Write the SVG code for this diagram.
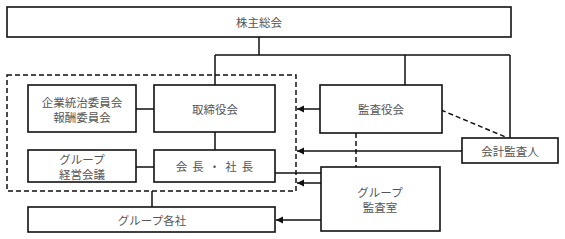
<svg xmlns="http://www.w3.org/2000/svg" width="565" height="239" viewBox="0 0 565 239">
<style>
.box{fill:#fff;stroke:#111;stroke-width:1.6}
.ln{fill:none;stroke:#111;stroke-width:1.5}
.dash{fill:none;stroke:#111;stroke-width:1.5;stroke-dasharray:5,3}
text{font-family:"Noto Sans CJK JP","Noto Sans CJK SC",sans-serif;font-size:11.5px;fill:#555;text-anchor:middle;dominant-baseline:central}
</style>
<defs>
<marker id="ah" markerWidth="8" markerHeight="8" refX="7" refY="4" orient="auto" markerUnits="userSpaceOnUse">
<path d="M0,0.5 L7,4 L0,7.5 Z" fill="#111"/>
</marker>
</defs>
<rect width="565" height="239" fill="#fff"/>
<g id="connectors">
<path class="ln" d="M259,37 V55 M215,55 H510 M215,55 V85 M405,55 V85 M510,55 V138"/>
<path class="ln" d="M136,109 H154 M136,167 H154 M215,132 V150 M152,191 V207 M275,173 H321"/>
<path class="dash" d="M441,110 L508,138"/>
<path class="dash" d="M356,133 V167"/>
<path class="ln" d="M320,109 H297" marker-end="url(#ah)"/>
<path class="ln" d="M462,151 H297" marker-end="url(#ah)"/>
<path class="ln" d="M321,183 H297" marker-end="url(#ah)"/>
<path class="ln" d="M321,220 H276" marker-end="url(#ah)"/>
</g>
<g id="group-box"><rect class="dash" x="7" y="75" width="289" height="116"/></g>
<g id="shareholders"><rect class="box" x="7" y="7" width="504" height="30"/><text x="259" y="22">株主総会</text></g>
<g id="committees"><rect class="box" x="28" y="85" width="108" height="47"/><text x="82" y="102">企業統治委員会</text><text x="82" y="117">報酬委員会</text></g>
<g id="board"><rect class="box" x="154" y="85" width="121" height="47"/><text x="215" y="109">取締役会</text></g>
<g id="mgmt-meeting"><rect class="box" x="28" y="150" width="108" height="32"/><text x="82" y="159">グループ</text><text x="82" y="174">経営会議</text></g>
<g id="president"><rect class="box" x="154" y="150" width="121" height="32"/><text x="217" y="166" letter-spacing="5">会長・社長</text></g>
<g id="group-companies"><rect class="box" x="28" y="207" width="247" height="25"/><text x="152" y="220">グループ各社</text></g>
<g id="auditors"><rect class="box" x="320" y="85" width="122" height="48"/><text x="381" y="109">監査役会</text></g>
<g id="accounting-auditor"><rect class="box" x="462" y="138" width="96" height="25"/><text x="510" y="151">会計監査人</text></g>
<g id="audit-office"><rect class="box" x="321" y="167" width="119" height="64"/><text x="380" y="192">グループ</text><text x="380" y="207">監査室</text></g>
</svg>
